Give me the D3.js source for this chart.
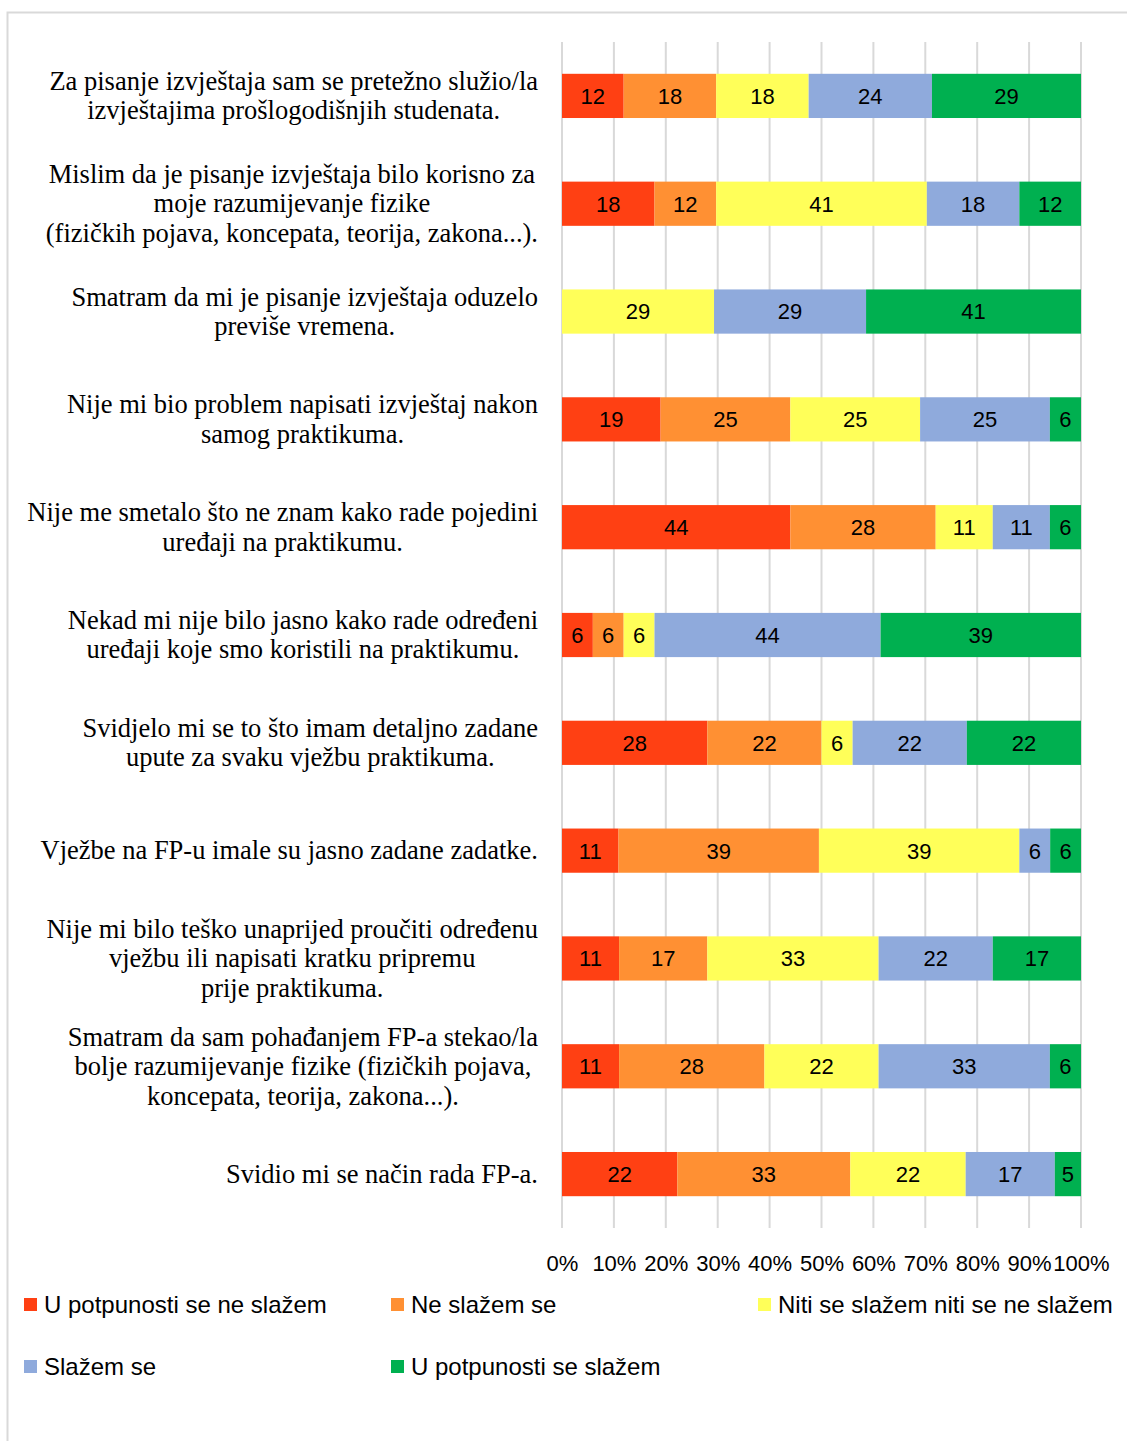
<!DOCTYPE html>
<html>
<head>
<meta charset="utf-8">
<script src="https://cdn.jsdelivr.net/npm/d3@7"></script>
<style>
  html, body { margin: 0; padding: 0; background: #fff; }
  svg { display: block; }
</style>
</head>
<body>
<svg id="chart" width="1127" height="1441"></svg>
<script>
// ---------------- DATA ----------------
const categories = [
  "Za pisanje izvještaja sam se pretežno služio/la\nizvještajima prošlogodišnjih studenata.",
  "Mislim da je pisanje izvještaja bilo korisno za\nmoje razumijevanje fizike\n(fizičkih pojava, koncepata, teorija, zakona...).",
  "Smatram da mi je pisanje izvještaja oduzelo\npreviše vremena.",
  "Nije mi bio problem napisati izvještaj nakon\nsamog praktikuma.",
  "Nije me smetalo što ne znam kako rade pojedini\nuređaji na praktikumu.",
  "Nekad mi nije bilo jasno kako rade određeni\nuređaji koje smo koristili na praktikumu.",
  "Svidjelo mi se to što imam detaljno zadane\nupute za svaku vježbu praktikuma.",
  "Vježbe na FP-u imale su jasno zadane zadatke.",
  "Nije mi bilo teško unaprijed proučiti određenu\nvježbu ili napisati kratku pripremu\nprije praktikuma.",
  "Smatram da sam pohađanjem FP-a stekao/la\nbolje razumijevanje fizike (fizičkih pojava,\nkoncepata, teorija, zakona...).",
  "Svidio mi se način rada FP-a."
];
const seriesNames = [
  "U potpunosti se ne slažem",
  "Ne slažem se",
  "Niti se slažem niti se ne slažem",
  "Slažem se",
  "U potpunosti se slažem"
];
const stronglyDisagree = [12, 18, 0, 19, 44, 6, 28, 11, 11, 11, 22];
const disagree         = [18, 12, 0, 25, 28, 6, 22, 39, 17, 28, 33];
const neutral          = [18, 41, 29, 25, 11, 6, 6, 39, 33, 22, 22];
const agree            = [24, 18, 29, 25, 11, 44, 22, 6, 22, 33, 17];
const stronglyAgree    = [29, 12, 41, 6, 6, 39, 22, 6, 17, 6, 5];
const tickValues = [0, 0.1, 0.2, 0.3, 0.4, 0.5, 0.6, 0.7, 0.8, 0.9, 1.0];
const tickLabels = ["0%", "10%", "20%", "30%", "40%", "50%", "60%", "70%", "80%", "90%", "100%"];
const colors = ["#FF4013", "#FF9033", "#FFFF59", "#8FAADC", "#00B050"];

// ---------------- BUILD ----------------
const seriesValues = [stronglyDisagree, disagree, neutral, agree, stronglyAgree];
const rows = categories.map((c, i) => {
  const r = { cat: c };
  seriesNames.forEach((s, j) => r[s] = seriesValues[j][i]);
  return r;
});
const stacked = d3.stack().keys(seriesNames).offset(d3.stackOffsetExpand)(rows);

const svg = d3.select("#chart");
const sansFont = "'Liberation Sans', Arial, sans-serif";
const serifFont = "'Liberation Serif', 'Times New Roman', serif";

// outer frame
svg.append("rect")
  .attr("x", 7.5).attr("y", 12.5).attr("width", 1140).attr("height", 1450)
  .attr("fill", "none").attr("stroke", "#d9d9d9").attr("stroke-width", 2);

const x = d3.scaleLinear().domain([0, 1]).range([562, 1081]);
const y = d3.scaleBand().domain(categories).range([42, 1228])
  .paddingInner(0.59).paddingOuter(0.295);

// gridlines
svg.append("g").selectAll("line").data(tickValues).join("line")
  .attr("x1", d => x(d)).attr("x2", d => x(d))
  .attr("y1", 42).attr("y2", 1228)
  .attr("stroke", "#d9d9d9").attr("stroke-width", 2);

// x axis tick labels
const xAxis = d3.axisBottom(x).tickValues(tickValues)
  .tickFormat((d, i) => tickLabels[i]).tickSize(0).tickPadding(0);
const gx = svg.append("g").attr("transform", "translate(0,1254)").call(xAxis);
gx.select(".domain").remove();
gx.selectAll("text")
  .attr("font-family", sansFont).attr("font-size", 22).attr("fill", "#000")
  .attr("dy", "0.75em").attr("y", 0);

// bars
const layer = svg.append("g").selectAll("g").data(stacked).join("g")
  .attr("fill", (d, i) => colors[i]);
layer.selectAll("rect").data(d => d.map(p => ({ p, key: d.key }))).join("rect")
  .attr("x", d => x(d.p[0]))
  .attr("width", d => x(d.p[1]) - x(d.p[0]))
  .attr("y", d => y(d.p.data.cat))
  .attr("height", y.bandwidth());

// value labels
stacked.forEach(s => {
  svg.append("g").selectAll("text").data(s.filter(p => p.data[s.key] > 0)).join("text")
    .attr("x", p => (x(p[0]) + x(p[1])) / 2)
    .attr("y", p => y(p.data.cat) + y.bandwidth() / 2)
    .attr("dy", "0.36em")
    .attr("text-anchor", "middle")
    .attr("font-family", sansFont).attr("font-size", 22).attr("fill", "#000")
    .text(p => p.data[s.key]);
});

// category labels (centered block, right edge at 538)
const lineH = 29.5;
categories.forEach(c => {
  const lines = c.split("\n");
  const g = svg.append("g");
  const texts = g.selectAll("text").data(lines).join("text")
    .attr("font-family", serifFont).attr("font-size", 26.5).attr("fill", "#000")
    .attr("text-anchor", "middle")
    .attr("y", (d, i) => y(c) + y.bandwidth() / 2 + (i - (lines.length - 1) / 2) * lineH)
    .attr("dy", "0.33em")
    .text(d => d);
  let maxW = 0;
  texts.each(function () { maxW = Math.max(maxW, this.getComputedTextLength()); });
  texts.attr("x", 538 - maxW / 2);
});

// legend
const legendPos = [[24, 1305], [391, 1305], [758, 1305], [24, 1367], [391, 1367]];
const lg = svg.append("g").selectAll("g").data(seriesNames).join("g")
  .attr("transform", (d, i) => `translate(${legendPos[i][0]},${legendPos[i][1]})`);
lg.append("rect").attr("x", 0).attr("y", -7).attr("width", 13).attr("height", 13)
  .attr("fill", (d, i) => colors[i]);
lg.append("text").attr("x", 20).attr("y", 0).attr("dy", "0.35em")
  .attr("font-family", sansFont).attr("font-size", 24).attr("fill", "#000")
  .text(d => d);
</script>
</body>
</html>
